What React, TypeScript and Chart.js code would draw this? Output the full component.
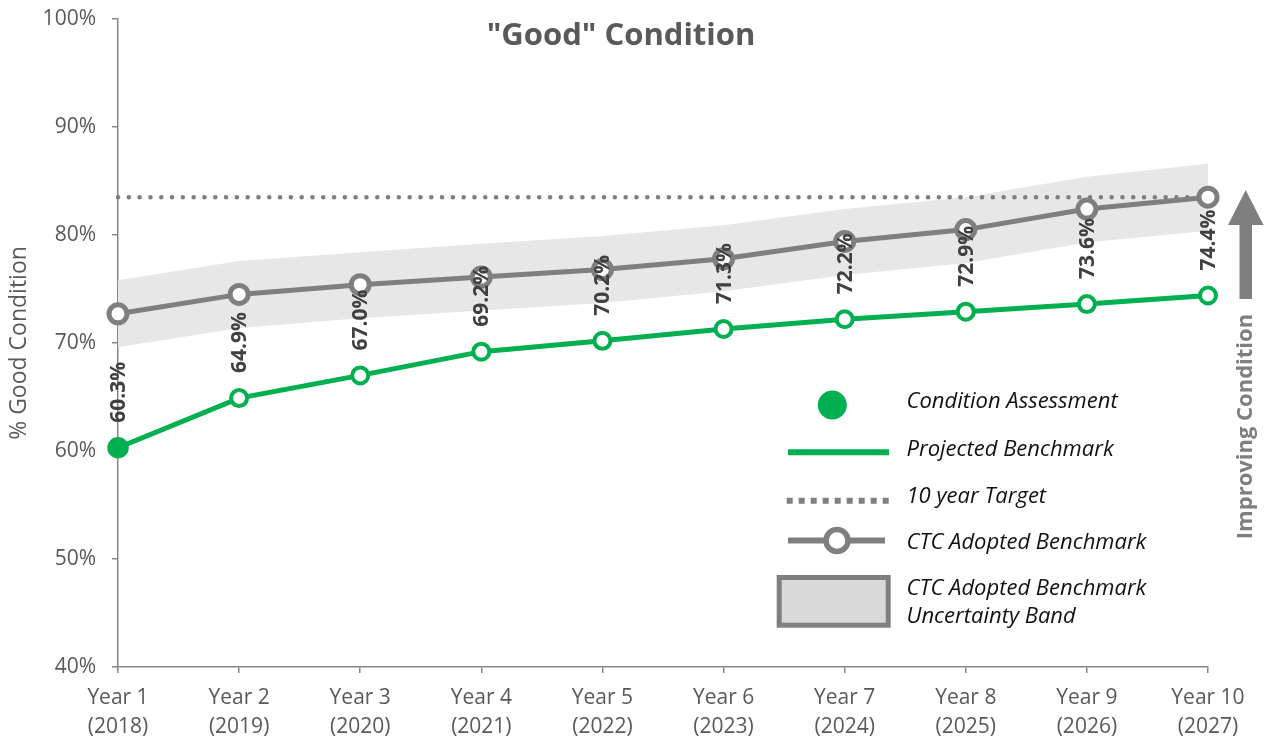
import { useEffect, useRef } from "react";
import { Chart, registerables } from "chart.js";

Chart.register(...registerables);

const FONT = "'Open Sans', sans-serif";

const YEAR_LABELS = ["Year 1", "Year 2", "Year 3", "Year 4", "Year 5", "Year 6", "Year 7", "Year 8", "Year 9", "Year 10"];
const CAL_YEARS = ["(2018)", "(2019)", "(2020)", "(2021)", "(2022)", "(2023)", "(2024)", "(2025)", "(2026)", "(2027)"];

const PROJECTED = [60.3, 64.9, 67.0, 69.2, 70.2, 71.3, 72.2, 72.9, 73.6, 74.4];
const CTC_ADOPTED = [72.7, 74.5, 75.4, 76.1, 76.8, 77.8, 79.4, 80.5, 82.4, 83.5];
const BAND_UPPER = [75.8, 77.6, 78.4, 79.2, 79.9, 80.9, 82.4, 83.5, 85.4, 86.6];
const BAND_LOWER = [69.6, 71.4, 72.3, 73.0, 73.7, 74.8, 76.3, 77.4, 79.3, 80.4];
const TARGET = [83.5, 83.5, 83.5, 83.5, 83.5, 83.5, 83.5, 83.5, 83.5, 83.5];

const Y_MIN = 40;
const Y_MAX = 100;
const Y_STEP = 10;

const TITLE = '"Good" Condition';
const Y_TITLE = "% Good Condition";
const SIDE_TEXT = "Improving Condition";
const LEGEND_ITEMS = [
  ["Condition Assessment"],
  ["Projected Benchmark"],
  ["10 year Target"],
  ["CTC Adopted Benchmark"],
  ["CTC Adopted Benchmark", "Uncertainty Band"],
];

const GREEN = "#00B050";
const GRAY = "#7F7F7F";
const AXIS = "#868686";
const TEXT = "#595959";

const decorPlugin = {
  id: "decor",
  afterDatasetsDraw(chart: any) {
    const ctx = chart.ctx as CanvasRenderingContext2D;
    const meta = chart.getDatasetMeta(1);
    ctx.save();
    ctx.fillStyle = "#404040";
    ctx.font = `bold 21px ${FONT}`;
    ctx.textAlign = "left";
    ctx.textBaseline = "middle";
    meta.data.forEach((pt: any, i: number) => {
      ctx.save();
      ctx.translate(pt.x + 1, pt.y - 25);
      ctx.rotate(-Math.PI / 2);
      ctx.fillText(PROJECTED[i].toFixed(1) + "%", 0, 0);
      ctx.restore();
    });
    ctx.restore();
  },
  afterDraw(chart: any) {
    const ctx = chart.ctx as CanvasRenderingContext2D;
    ctx.save();
    // Title
    ctx.fillStyle = TEXT;
    ctx.font = `bold 31px ${FONT}`;
    ctx.textAlign = "center";
    ctx.textBaseline = "middle";
    ctx.fillText(TITLE, 621, 36);

    // Arrow
    ctx.fillStyle = GRAY;
    ctx.fillRect(1239.5, 224, 12.5, 75);
    ctx.beginPath();
    ctx.moveTo(1228, 225);
    ctx.lineTo(1245.7, 190);
    ctx.lineTo(1263.5, 225);
    ctx.closePath();
    ctx.fill();

    // Improving Condition text
    ctx.save();
    ctx.translate(1246, 426.5);
    ctx.rotate(-Math.PI / 2);
    ctx.font = `bold 22px ${FONT}`;
    ctx.fillStyle = GRAY;
    ctx.textAlign = "center";
    ctx.textBaseline = "middle";
    ctx.fillText(SIDE_TEXT, 0, 0);
    ctx.restore();

    // Legend symbols
    ctx.fillStyle = GREEN;
    ctx.beginPath();
    ctx.arc(832.3, 405, 14.5, 0, Math.PI * 2);
    ctx.fill();

    ctx.strokeStyle = GREEN;
    ctx.lineWidth = 6;
    ctx.beginPath();
    ctx.moveTo(788, 452.3);
    ctx.lineTo(889, 452.3);
    ctx.stroke();

    ctx.strokeStyle = GRAY;
    ctx.lineWidth = 6;
    ctx.setLineDash([6, 6]);
    ctx.beginPath();
    ctx.moveTo(786.7, 500.8);
    ctx.lineTo(889, 500.8);
    ctx.stroke();
    ctx.setLineDash([]);

    ctx.lineWidth = 6;
    ctx.beginPath();
    ctx.moveTo(788, 540.5);
    ctx.lineTo(885, 540.5);
    ctx.stroke();
    ctx.fillStyle = "#fff";
    ctx.lineWidth = 5.5;
    ctx.beginPath();
    ctx.arc(837, 540.5, 11, 0, Math.PI * 2);
    ctx.fill();
    ctx.stroke();

    ctx.fillStyle = "#D9D9D9";
    ctx.lineWidth = 5;
    ctx.fillRect(779.2, 577.5, 109, 47.7);
    ctx.strokeRect(779.2, 577.5, 109, 47.7);

    // Legend texts
    ctx.fillStyle = "#111";
    ctx.font = `italic 22px ${FONT}`;
    ctx.textAlign = "left";
    ctx.textBaseline = "middle";
    const ys = [[402], [450], [497], [543], [588.5, 616.5]];
    LEGEND_ITEMS.forEach((lines, i) => {
      lines.forEach((line, j) => ctx.fillText(line, 906.5, ys[i][j]));
    });
    ctx.restore();
  },
};

export default function App() {
  const ref = useRef<HTMLCanvasElement | null>(null);

  useEffect(() => {
    if (!ref.current) return;
    const labels = YEAR_LABELS.map((y, i) => [y, CAL_YEARS[i]]);
    const chart = new Chart(ref.current, {
      type: "line",
      data: {
        labels,
        datasets: [
          {
            label: "CTC Adopted Benchmark",
            data: CTC_ADOPTED,
            borderColor: GRAY,
            borderWidth: 5,
            pointRadius: 9,
            pointBorderWidth: 5,
            pointBackgroundColor: "#fff",
            pointBorderColor: GRAY,
            tension: 0,
            fill: false,
          },
          {
            label: "Projected Benchmark",
            data: PROJECTED,
            borderColor: GREEN,
            borderWidth: 5,
            pointRadius: (c: any) => (c.dataIndex === 0 ? 10 : 8),
            pointBorderWidth: (c: any) => (c.dataIndex === 0 ? 1.5 : 4),
            pointBackgroundColor: (c: any) => (c.dataIndex === 0 ? GREEN : "#fff"),
            pointBorderColor: GREEN,
            tension: 0,
            fill: false,
          },
          {
            label: "10 year Target",
            data: TARGET,
            borderColor: GRAY,
            borderWidth: 4.5,
            borderDash: [0.1, 10.7],
            borderCapStyle: "round",
            pointRadius: 0,
            fill: false,
          },
          {
            label: "Band upper",
            data: BAND_UPPER,
            borderColor: "rgba(0,0,0,0)",
            borderWidth: 1,
            pointRadius: 0,
            backgroundColor: "#E7E7E7",
            fill: "+1",
          },
          {
            label: "Band lower",
            data: BAND_LOWER,
            borderColor: "rgba(0,0,0,0)",
            borderWidth: 1,
            pointRadius: 0,
            fill: false,
          },
        ],
      },
      options: {
        animation: false,
        responsive: false,
        maintainAspectRatio: false,
        events: [],
        layout: { padding: { top: 19, right: 58, left: 0, bottom: 0 } },
        plugins: {
          legend: { display: false },
          tooltip: { enabled: false },
          title: { display: false },
        },
        scales: {
          x: {
            type: "category",
            offset: false,
            grid: {
              display: true,
              drawOnChartArea: false,
              drawTicks: true,
              tickLength: 6,
              color: AXIS,
              lineWidth: 1.5,
            },
            border: { display: true, color: AXIS, width: 1.5 },
            ticks: {
              color: TEXT,
              font: { family: FONT, size: 21, lineHeight: 1.36 },
              padding: 11,
              maxRotation: 0,
              autoSkip: false,
            },
            afterFit: (s: any) => {
              s.height = 73;
            },
          },
          y: {
            min: Y_MIN,
            max: Y_MAX,
            grid: {
              display: true,
              drawOnChartArea: false,
              drawTicks: true,
              tickLength: 6,
              color: AXIS,
              lineWidth: 1.5,
            },
            border: { display: true, color: AXIS, width: 1.5 },
            ticks: {
              stepSize: Y_STEP,
              color: TEXT,
              font: { family: FONT, size: 21 },
              padding: 16,
              callback: (v: any) => v + "%",
            },
            title: {
              display: true,
              text: Y_TITLE,
              color: TEXT,
              font: { family: FONT, size: 23 },
              padding: { top: 6, bottom: 0 },
            },
            afterFit: (s: any) => {
              s.width = 118;
              s.paddingTop = 0;
              s.paddingBottom = 0;
            },
          },
        },
      },
      plugins: [decorPlugin],
    });
    return () => chart.destroy();
  }, []);

  return (
    <div style={{ position: "absolute", left: 0, top: 0, width: 1266, height: 740, background: "#fff" }}>
      <canvas ref={ref} width={1266} height={740} style={{ display: "block" }} />
    </div>
  );
}
